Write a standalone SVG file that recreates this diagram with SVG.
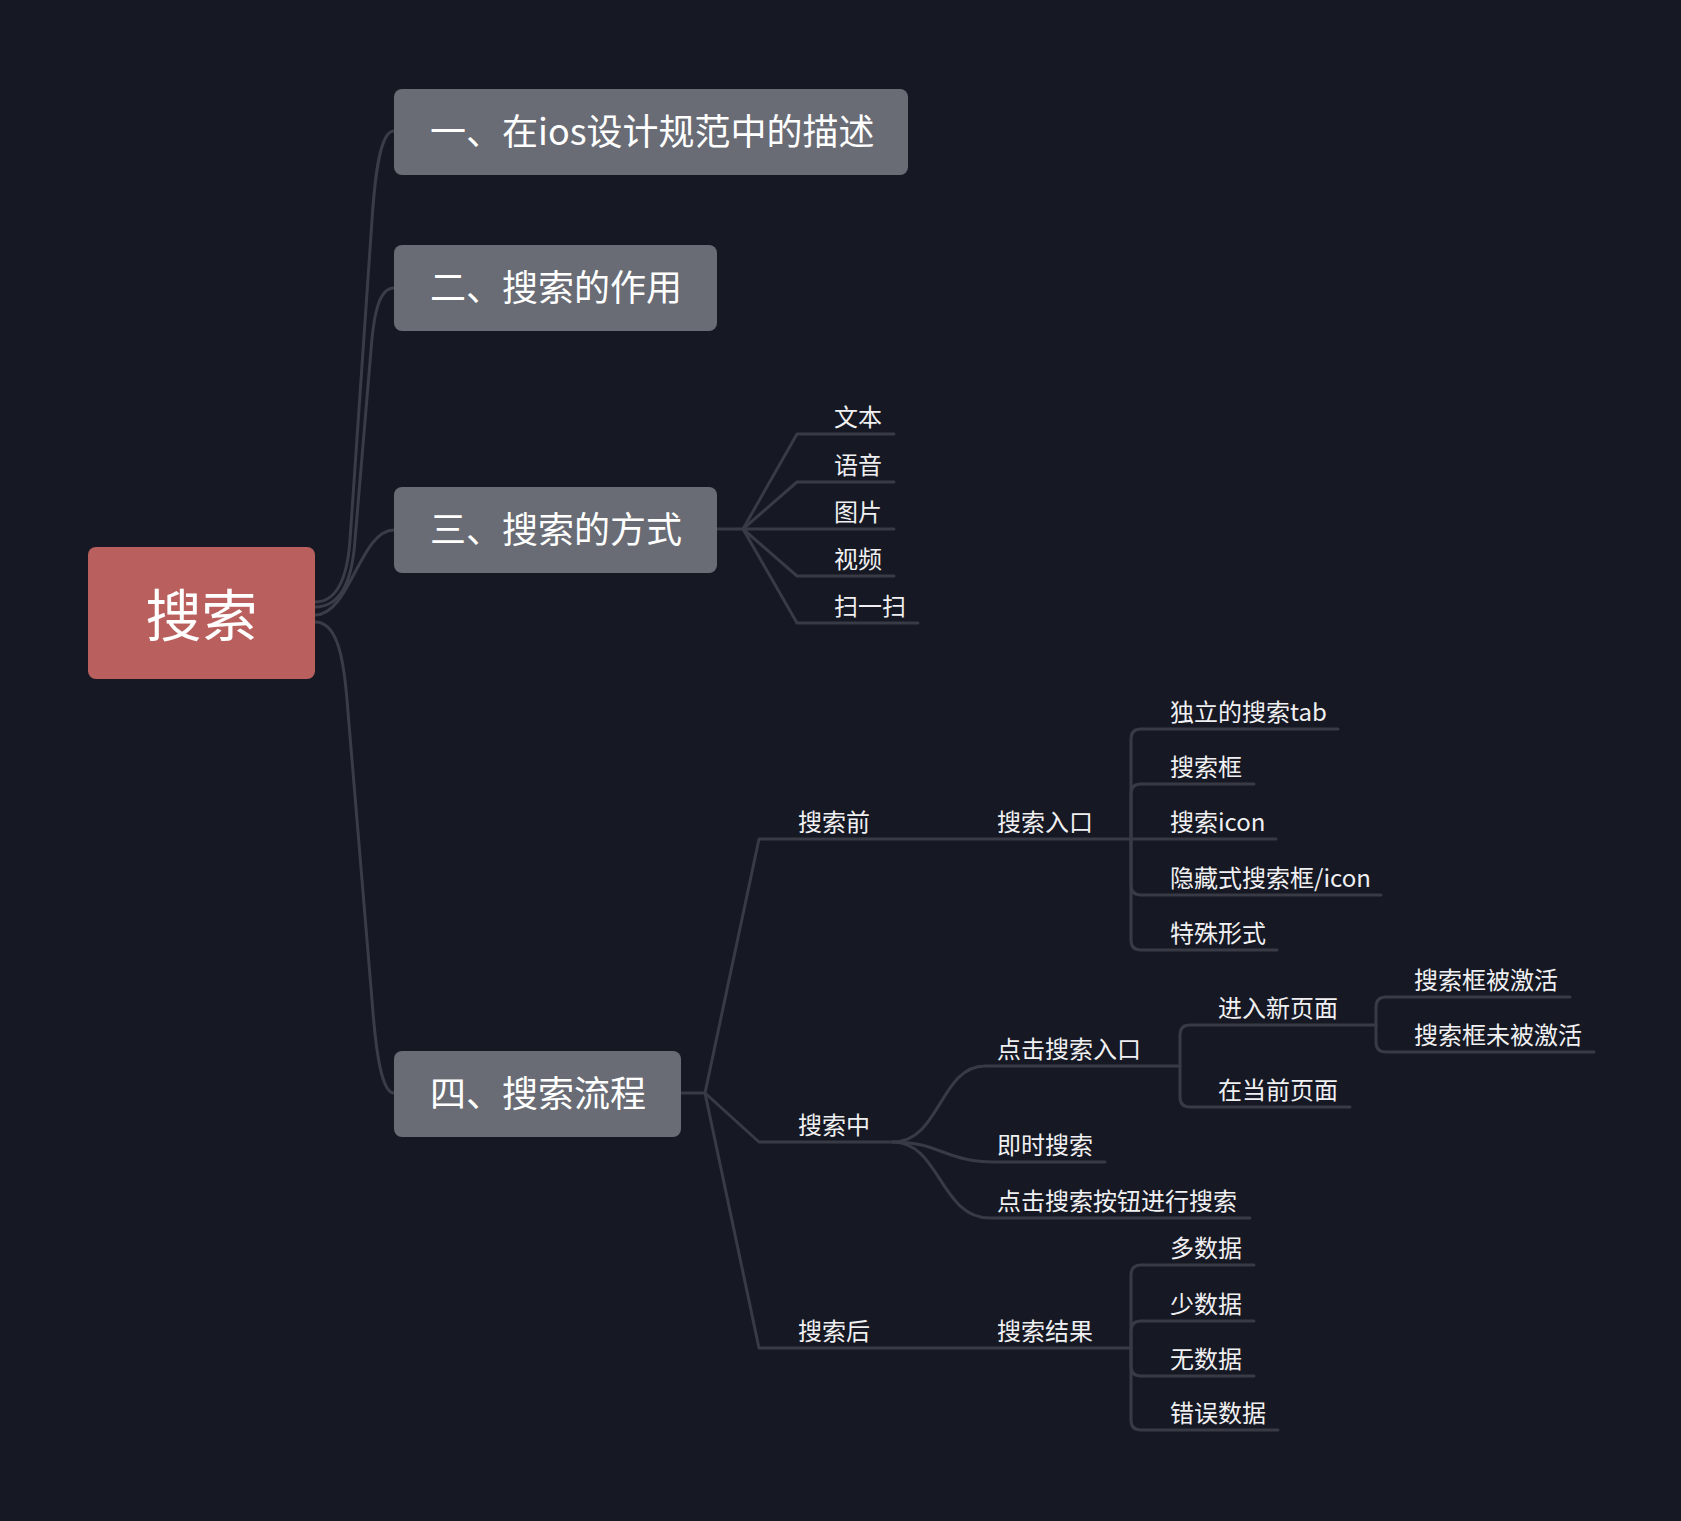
<svg xmlns="http://www.w3.org/2000/svg" width="1681" height="1521" viewBox="0 0 1681 1521">
<style>
.bg{fill:#161823}
.root{fill:#b9605e}
.box{fill:#696c75}
.t{font-family:"Noto Sans CJK SC","Noto Sans",sans-serif;fill:#ffffff}
.big{font-size:36px}
.sm{font-size:24px;fill:#f0f0f2}
.ln{fill:none;stroke:#383a45;stroke-width:3;stroke-linecap:round;stroke-linejoin:round}
.mn{fill:none;stroke:#3a3c47;stroke-width:3;stroke-linecap:round}
</style>
<rect class="bg" x="0" y="0" width="1681" height="1521"/>
<g id="connectors">
<path class="mn" d="M315 602 C335 602 347 582 350 540 L372 220 C375 175 380 131 394 131"/>
<path class="mn" d="M315 607 C338 607 352 585 355 540 L371 350 C374 310 380 288 394 288"/>
<path class="mn" d="M315 615 C350 615 360 530 394 530"/>
<path class="mn" d="M315 622 C335 622 343 650 347 700 L372 1000 C376 1055 382 1093 394 1093"/>
<path class="ln" d="M717 529 H743 L797 434 H894"/>
<path class="ln" d="M743 529 L797 482 H894"/>
<path class="ln" d="M743 529 H894"/>
<path class="ln" d="M743 529 L797 576 H894"/>
<path class="ln" d="M743 529 L797 623 H918"/>
<path class="ln" d="M681 1093 H705 L759 839 H1131"/>
<path class="ln" d="M1131 839 V739 Q1131 729 1141 729 H1338"/>
<path class="ln" d="M1131 839 V794 Q1131 784 1141 784 H1254"/>
<path class="ln" d="M1131 839 H1276"/>
<path class="ln" d="M1131 839 V885 Q1131 895 1141 895 H1381"/>
<path class="ln" d="M1131 839 V940 Q1131 950 1141 950 H1277"/>
<path class="ln" d="M705 1093 L759 1142 H893"/>
<path class="ln" d="M893 1142 C940 1142 940 1066 985 1066 H1180"/>
<path class="ln" d="M893 1142 C940 1142 945 1162 995 1162 H1105"/>
<path class="ln" d="M893 1142 C940 1142 940 1218 990 1218 H1250"/>
<path class="ln" d="M1180 1066 V1035 Q1180 1025 1190 1025 H1376"/>
<path class="ln" d="M1180 1066 V1097 Q1180 1107 1190 1107 H1350"/>
<path class="ln" d="M1376 1025 V1007 Q1376 997 1386 997 H1570"/>
<path class="ln" d="M1376 1025 V1042 Q1376 1052 1386 1052 H1594"/>
<path class="ln" d="M705 1093 L759 1348 H1131"/>
<path class="ln" d="M1131 1348 V1275 Q1131 1265 1141 1265 H1254"/>
<path class="ln" d="M1131 1348 V1331 Q1131 1321 1141 1321 H1254"/>
<path class="ln" d="M1131 1348 V1366 Q1131 1376 1141 1376 H1254"/>
<path class="ln" d="M1131 1348 V1420 Q1131 1430 1141 1430 H1278"/>
</g>
<g id="root"><rect class="root" x="88" y="547" width="227" height="132" rx="8"/><text class="t" x="201.5" y="636" font-size="56" text-anchor="middle">搜索</text></g>
<g id="n1"><rect class="box" x="394" y="89" width="514" height="86" rx="8"/><text class="t big" x="430" y="145">一、在ios设计规范中的描述</text></g>
<g id="n2"><rect class="box" x="394" y="245" width="323" height="86" rx="8"/><text class="t big" x="430" y="301">二、搜索的作用</text></g>
<g id="n3"><rect class="box" x="394" y="487" width="323" height="86" rx="8"/><text class="t big" x="430" y="543">三、搜索的方式</text></g>
<g id="n4"><rect class="box" x="394" y="1051" width="287" height="86" rx="8"/><text class="t big" x="430" y="1107">四、搜索流程</text></g>
<g id="n3a"><text class="t sm" x="834" y="426">文本</text></g>
<g id="n3b"><text class="t sm" x="834" y="474">语音</text></g>
<g id="n3c"><text class="t sm" x="834" y="521">图片</text></g>
<g id="n3d"><text class="t sm" x="834" y="568">视频</text></g>
<g id="n3e"><text class="t sm" x="834" y="615">扫一扫</text></g>
<g id="n4a"><text class="t sm" x="798" y="831">搜索前</text></g>
<g id="n4a1"><text class="t sm" x="997" y="831">搜索入口</text></g>
<g id="n4a1a"><text class="t sm" x="1170" y="721">独立的搜索tab</text></g>
<g id="n4a1b"><text class="t sm" x="1170" y="776">搜索框</text></g>
<g id="n4a1c"><text class="t sm" x="1170" y="831">搜索icon</text></g>
<g id="n4a1d"><text class="t sm" x="1170" y="887">隐藏式搜索框/icon</text></g>
<g id="n4a1e"><text class="t sm" x="1170" y="942">特殊形式</text></g>
<g id="n4b"><text class="t sm" x="798" y="1134">搜索中</text></g>
<g id="n4b1"><text class="t sm" x="997" y="1058">点击搜索入口</text></g>
<g id="n4b1a"><text class="t sm" x="1218" y="1017">进入新页面</text></g>
<g id="n4b1a1"><text class="t sm" x="1414" y="989">搜索框被激活</text></g>
<g id="n4b1a2"><text class="t sm" x="1414" y="1044">搜索框未被激活</text></g>
<g id="n4b1b"><text class="t sm" x="1218" y="1099">在当前页面</text></g>
<g id="n4b2"><text class="t sm" x="997" y="1154">即时搜索</text></g>
<g id="n4b3"><text class="t sm" x="997" y="1210">点击搜索按钮进行搜索</text></g>
<g id="n4c"><text class="t sm" x="798" y="1340">搜索后</text></g>
<g id="n4c1"><text class="t sm" x="997" y="1340">搜索结果</text></g>
<g id="n4c1a"><text class="t sm" x="1170" y="1257">多数据</text></g>
<g id="n4c1b"><text class="t sm" x="1170" y="1313">少数据</text></g>
<g id="n4c1c"><text class="t sm" x="1170" y="1368">无数据</text></g>
<g id="n4c1d"><text class="t sm" x="1170" y="1422">错误数据</text></g>
</svg>
